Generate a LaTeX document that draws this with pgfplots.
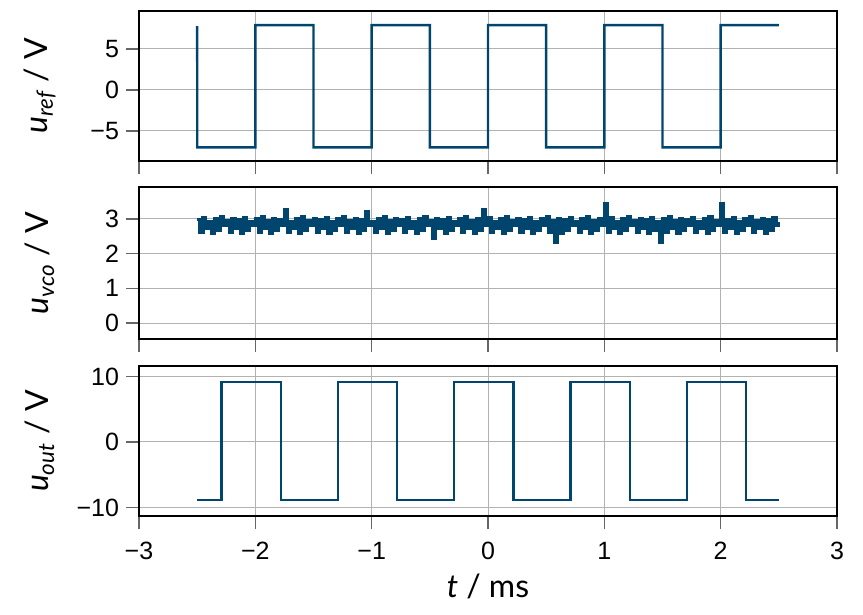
\documentclass[border=0pt]{standalone}
\usepackage{pgfplots}
\pgfplotsset{compat=1.18}
\usepackage{fontspec}
\setmainfont{Lato}
\newfontfamily\tickfont{Liberation Sans}
\definecolor{sigc}{RGB}{0,69,110}
\pgfplotsset{
  common/.style={
    scale only axis, width=349pt,
    xmin=-3, xmax=3, xtick={-3,-2,-1,0,1,2,3},
    grid=major, grid style={black!30, line width=0.5pt},
    axis line style={black, line width=0.6pt},
    tick align=outside, major tick length=6.5pt,
    tick style={black!60, line width=0.6pt},
    xtick pos=bottom, ytick pos=left,
    tick label style={font=\tickfont\fontsize{12.5}{14}\selectfont},
    xticklabel style={yshift=-3pt},
    label style={font=\fontsize{16}{19}\selectfont},
    ylabel style={at={(axis description cs:-0.142,0.5)}, anchor=center},
  },
  sig/.style={color=sigc, line width=1.2pt, mark=none},
}
\begin{document}
\begin{tikzpicture}
\path[use as bounding box] (0,0) rectangle (431.5pt,-307.5pt);
% top: u_ref
\begin{axis}[common, at={(69.5pt,-80.5pt)}, anchor=south west, height=75pt,
  ymin=-8.66, ymax=9.63, ytick={-5,0,5}, yticklabels={−5,0,5}, xticklabels={},
  ylabel={{\itshape u}\textsubscript{\itshape ref} / V}]
\addplot[sig] coordinates {
(-2.5,7.8) (-2.499,-7.0) (-2.0,-7.0) (-2.0,7.9) (-1.5,7.9) (-1.5,-7.0)
(-1.0,-7.0) (-1.0,7.9) (-0.5,7.9) (-0.5,-7.0) (0,-7.0) (0,7.9)
(0.5,7.9) (0.5,-7.0) (1,-7.0) (1,7.9) (1.5,7.9) (1.5,-7.0)
(2,-7.0) (2,7.9) (2.5,7.9)};
\end{axis}
% middle: u_vco
\begin{axis}[common, at={(69.5pt,-169.5pt)}, anchor=south west, height=76pt,
  ymin=-0.46, ymax=3.92, ytick={0,1,2,3}, yticklabels={0,1,2,3}, xticklabels={},
  ylabel={{\itshape u}\textsubscript{\itshape vco} / V}]
\addplot[sig, const plot, line width=1.6pt] table {
x y
-2.500 2.98
-2.475 2.62
-2.450 3.03
-2.425 2.72
-2.400 2.92
-2.375 2.58
-2.350 3.02
-2.325 2.66
-2.300 3.06
-2.275 2.80
-2.250 2.95
-2.225 2.62
-2.200 3.00
-2.175 2.72
-2.150 2.98
-2.125 2.58
-2.100 3.03
-2.075 2.66
-2.050 2.92
-2.025 2.80
-2.000 3.02
-1.975 2.62
-1.950 3.06
-1.925 2.72
-1.900 2.95
-1.875 2.58
-1.850 3.00
-1.825 2.66
-1.800 2.98
-1.775 2.80
-1.750 3.26
-1.725 2.62
-1.700 2.92
-1.675 2.72
-1.650 3.02
-1.625 2.58
-1.600 3.06
-1.575 2.66
-1.550 2.95
-1.525 2.80
-1.500 3.00
-1.475 2.62
-1.450 2.98
-1.425 2.72
-1.400 3.03
-1.375 2.58
-1.350 2.92
-1.325 2.66
-1.300 3.02
-1.275 2.80
-1.250 3.06
-1.225 2.62
-1.200 2.95
-1.175 2.72
-1.150 3.00
-1.125 2.58
-1.100 2.98
-1.075 2.66
-1.050 3.22
-1.025 2.80
-1.000 2.92
-0.975 2.62
-0.950 3.02
-0.925 2.72
-0.900 3.06
-0.875 2.58
-0.850 2.95
-0.825 2.66
-0.800 3.00
-0.775 2.80
-0.750 2.98
-0.725 2.62
-0.700 3.03
-0.675 2.72
-0.650 2.92
-0.625 2.58
-0.600 3.02
-0.575 2.66
-0.550 3.06
-0.525 2.80
-0.500 2.95
-0.475 2.45
-0.450 3.00
-0.425 2.72
-0.400 2.98
-0.375 2.58
-0.350 3.03
-0.325 2.66
-0.300 2.92
-0.275 2.80
-0.250 3.02
-0.225 2.62
-0.200 3.06
-0.175 2.72
-0.150 2.95
-0.125 2.58
-0.100 3.00
-0.075 2.66
-0.050 3.26
-0.025 2.80
0.000 3.03
0.025 2.62
0.050 2.92
0.075 2.72
0.100 3.02
0.125 2.58
0.150 3.06
0.175 2.66
0.200 2.95
0.225 2.80
0.250 3.00
0.275 2.62
0.300 2.98
0.325 2.72
0.350 3.03
0.375 2.58
0.400 2.92
0.425 2.66
0.450 3.02
0.475 2.80
0.500 3.06
0.525 2.62
0.550 2.95
0.575 2.33
0.600 3.00
0.625 2.58
0.650 2.98
0.675 2.66
0.700 3.03
0.725 2.80
0.750 2.92
0.775 2.62
0.800 3.02
0.825 2.72
0.850 3.06
0.875 2.58
0.900 2.95
0.925 2.66
0.950 3.00
0.975 2.80
1.000 3.44
1.025 2.62
1.050 3.03
1.075 2.72
1.100 2.92
1.125 2.58
1.150 3.02
1.175 2.66
1.200 3.06
1.225 2.80
1.250 2.95
1.275 2.62
1.300 3.00
1.325 2.72
1.350 2.98
1.375 2.58
1.400 3.03
1.425 2.66
1.450 2.92
1.475 2.33
1.500 3.02
1.525 2.62
1.550 3.06
1.575 2.72
1.600 2.95
1.625 2.58
1.650 3.00
1.675 2.66
1.700 2.98
1.725 2.80
1.750 3.03
1.775 2.62
1.800 2.92
1.825 2.72
1.850 3.02
1.875 2.58
1.900 3.06
1.925 2.66
1.950 2.95
1.975 2.80
2.000 3.44
2.025 2.62
2.050 2.98
2.075 2.72
2.100 3.03
2.125 2.58
2.150 2.92
2.175 2.66
2.200 3.02
2.225 2.80
2.250 3.06
2.275 2.62
2.300 2.95
2.325 2.72
2.350 3.00
2.375 2.58
2.400 2.98
2.425 2.66
2.450 3.03
2.475 2.80
2.500 2.92
};
\end{axis}
% bottom: u_out
\begin{axis}[common, at={(69.5pt,-258pt)}, anchor=south west, height=75pt,
  ymin=-11.3, ymax=11.6, ytick={-10,0,10}, yticklabels={−10,0,10},
  xticklabels={−3,−2,−1,0,1,2,3},
  ylabel={{\itshape u}\textsubscript{\itshape out} / V},
  xlabel={{\itshape t} / ms},
  xlabel style={at={(axis description cs:0.5,-0.47)}, anchor=center}]
\addplot[sig] coordinates {
(-2.5,-8.9) (-2.29,-8.9) (-2.29,9.2) (-1.78,9.2) (-1.78,-8.9)
(-1.29,-8.9) (-1.29,9.2) (-0.78,9.2) (-0.78,-8.9) (-0.29,-8.9)
(-0.29,9.2) (0.22,9.2) (0.22,-8.9) (0.71,-8.9) (0.71,9.2)
(1.22,9.2) (1.22,-8.9) (1.71,-8.9) (1.71,9.2) (2.22,9.2)
(2.22,-8.9) (2.5,-8.9)};
\end{axis}
\end{tikzpicture}
\end{document}
